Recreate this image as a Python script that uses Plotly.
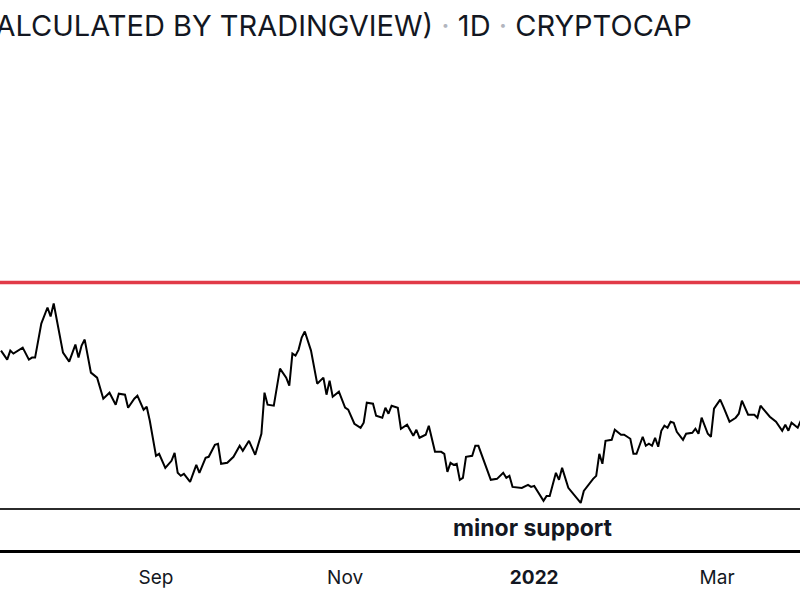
import plotly.graph_objects as go

dates = [
    "2021-07-13", "2021-07-15", "2021-07-16", "2021-07-17", "2021-07-20", "2021-07-22", "2021-07-23", "2021-07-24",
    "2021-07-26", "2021-07-28", "2021-07-29", "2021-07-30", "2021-08-02", "2021-08-04", "2021-08-06", "2021-08-07",
    "2021-08-08", "2021-08-09", "2021-08-11", "2021-08-13", "2021-08-15", "2021-08-17", "2021-08-19", "2021-08-20",
    "2021-08-22", "2021-08-23", "2021-08-25", "2021-08-26", "2021-08-28", "2021-08-29", "2021-08-30", "2021-09-01",
    "2021-09-02", "2021-09-04", "2021-09-06", "2021-09-07", "2021-09-08", "2021-09-09", "2021-09-10", "2021-09-12",
    "2021-09-14", "2021-09-15", "2021-09-17", "2021-09-18", "2021-09-20", "2021-09-21", "2021-09-22", "2021-09-24",
    "2021-09-26", "2021-09-28", "2021-09-29", "2021-10-01", "2021-10-03", "2021-10-05", "2021-10-06", "2021-10-07",
    "2021-10-09", "2021-10-11", "2021-10-13", "2021-10-14", "2021-10-15", "2021-10-16", "2021-10-17", "2021-10-18",
    "2021-10-19", "2021-10-21", "2021-10-23", "2021-10-25", "2021-10-26", "2021-10-27", "2021-10-28", "2021-10-30",
    "2021-11-01", "2021-11-02", "2021-11-04", "2021-11-06", "2021-11-07", "2021-11-08", "2021-11-10", "2021-11-11",
    "2021-11-13", "2021-11-14", "2021-11-15", "2021-11-16", "2021-11-18", "2021-11-19", "2021-11-21", "2021-11-23",
    "2021-11-24", "2021-11-25", "2021-11-27", "2021-11-28", "2021-11-30", "2021-12-02", "2021-12-03", "2021-12-04",
    "2021-12-05", "2021-12-06", "2021-12-07", "2021-12-08", "2021-12-09", "2021-12-10", "2021-12-12", "2021-12-13",
    "2021-12-14", "2021-12-16", "2021-12-18", "2021-12-20", "2021-12-22", "2021-12-23", "2021-12-24", "2021-12-25",
    "2021-12-27", "2021-12-28", "2021-12-30", "2021-12-31", "2022-01-01", "2022-01-03", "2022-01-04", "2022-01-05",
    "2022-01-06", "2022-01-08", "2022-01-09", "2022-01-10", "2022-01-12", "2022-01-16", "2022-01-17", "2022-01-20",
    "2022-01-21", "2022-01-22", "2022-01-23", "2022-01-24", "2022-01-26", "2022-01-27", "2022-01-29", "2022-01-30",
    "2022-02-01", "2022-02-02", "2022-02-03", "2022-02-05", "2022-02-06", "2022-02-07", "2022-02-08", "2022-02-09",
    "2022-02-10", "2022-02-11", "2022-02-12", "2022-02-13", "2022-02-14", "2022-02-15", "2022-02-16", "2022-02-18",
    "2022-02-19", "2022-02-21", "2022-02-22", "2022-02-23", "2022-02-24", "2022-02-26", "2022-02-27", "2022-02-28",
    "2022-03-02", "2022-03-03", "2022-03-05", "2022-03-07", "2022-03-08", "2022-03-09", "2022-03-11", "2022-03-13",
    "2022-03-14", "2022-03-15", "2022-03-16", "2022-03-18", "2022-03-20", "2022-03-22", "2022-03-23", "2022-03-24",
    "2022-03-25", "2022-03-27", "2022-03-28",
]

dominance = [
    45.28, 44.92, 45.28, 45.16, 45.40, 44.92, 45.00, 45.00,
    46.36, 47.00, 46.64, 47.16, 45.20, 44.84, 45.52, 45.00,
    45.48, 45.72, 44.40, 44.20, 43.36, 43.60, 43.12, 43.56,
    43.52, 43.00, 43.36, 43.48, 42.92, 43.04, 42.48, 41.08,
    41.16, 40.60, 40.88, 41.20, 40.40, 40.28, 40.36, 40.04,
    40.72, 40.40, 41.00, 41.04, 41.52, 41.56, 40.76, 40.80,
    41.04, 41.48, 41.28, 41.68, 41.12, 41.96, 43.60, 43.12,
    43.08, 44.56, 44.20, 43.88, 45.16, 45.08, 45.32, 45.80,
    46.04, 45.28, 43.96, 44.20, 43.52, 44.08, 43.44, 43.64,
    43.00, 42.92, 42.36, 42.20, 42.40, 43.20, 43.16, 42.68,
    42.60, 43.00, 42.76, 43.08, 43.00, 42.16, 42.32, 41.88,
    42.12, 41.80, 41.92, 42.28, 41.24, 41.24, 41.16, 40.44,
    40.80, 40.72, 40.76, 40.12, 40.20, 41.04, 41.08, 41.48,
    41.48, 40.80, 40.12, 40.16, 40.40, 40.20, 40.28, 39.84,
    39.80, 39.80, 39.92, 39.84, 39.88, 39.48, 39.28, 39.48,
    39.48, 40.40, 40.12, 40.60, 39.80, 39.20, 39.68, 40.16,
    40.28, 41.16, 40.76, 41.68, 41.72, 42.12, 41.92, 41.92,
    41.76, 41.16, 41.16, 41.84, 41.48, 41.56, 41.48, 41.80,
    41.44, 42.08, 42.28, 42.20, 42.44, 42.40, 42.04, 41.72,
    41.96, 42.00, 42.16, 41.96, 42.60, 41.96, 41.84, 42.96,
    43.32, 43.04, 42.44, 42.60, 42.76, 43.28, 42.72, 42.72,
    42.60, 43.08, 42.92, 42.64, 42.44, 42.08, 42.32, 42.08,
    42.40, 42.20, 42.48,
]

resistance_level = 48.0
support_level = 38.96
support_label = "minor support"

tick_vals = ["2021-09-01", "2021-11-01", "2022-01-01", "2022-03-01"]
tick_text = ["Sep", "Nov", "<b>2022</b>", "Mar"]

title_text = ("BITCOIN DOMINANCE, % (CALCULATED BY TRADINGVIEW) "
              "<span style='color:#b2b5be'>·</span> 1D "
              "<span style='color:#b2b5be'>·</span> CRYPTOCAP")

x_range = ["2021-07-12 16:15", "2022-03-27 17:45"]
y_range = [37.32, 56.88]

fig = go.Figure()
fig.add_trace(go.Scatter(
    x=dates, y=dominance, mode="lines",
    line=dict(color="#000000", width=2),
    hoverinfo="skip", showlegend=False,
))

fig.add_hline(y=resistance_level, line=dict(color="#e13a48", width=3.5))
fig.add_hline(y=support_level, line=dict(color="#2b2b2b", width=2))

fig.add_annotation(
    text=title_text, xref="paper", yref="paper",
    x=694 / 800, y=1 + 35 / 490, xanchor="right", yanchor="middle",
    showarrow=False, font=dict(family="Inter", size=29, color="#131722"),
)
fig.add_annotation(
    text="<b>" + support_label + "</b>", xref="paper", yref="paper",
    x=533 / 800, y=22 / 490, xanchor="center", yanchor="middle",
    showarrow=False, font=dict(family="Inter", size=23, color="#131722"),
)

fig.update_layout(
    width=800, height=600,
    margin=dict(l=0, r=0, t=60, b=50),
    paper_bgcolor="white", plot_bgcolor="white",
    font=dict(family="Inter", color="#131722"),
    xaxis=dict(
        type="date", range=x_range, tickvals=tick_vals, ticktext=tick_text,
        showgrid=False, zeroline=False, showline=True, linecolor="#000000",
        linewidth=3, ticks="", tickfont=dict(family="Inter", size=19, color="#131722"),
        ticklabelstandoff=8,
    ),
    yaxis=dict(range=y_range, visible=False, showgrid=False, zeroline=False),
    showlegend=False,
)

fig.write_html("out.html", config={"displayModeBar": False})
